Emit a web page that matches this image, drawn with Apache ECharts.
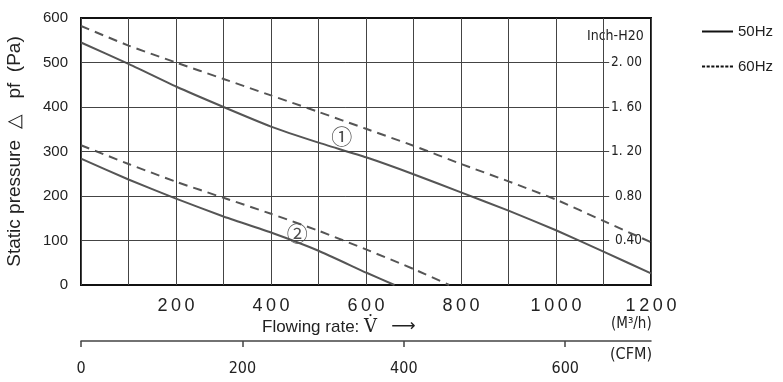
<!DOCTYPE html>
<html>
<head>
<meta charset="utf-8">
<script src="https://cdn.jsdelivr.net/npm/echarts@6/dist/echarts.min.js"></script>
<style>html,body{margin:0;padding:0;background:#fff}#c{width:783px;height:382px}</style>
</head>
<body>
<div id="c"></div>
<script>
// ---- data ----
const flowTicksM3h = [200, 400, 600, 800, 1000, 1200];
const pressureTicks = [100, 200, 300, 400, 500];
const inchLabels = ['0.40', '0.80', '1. 20', '1. 60', '2. 00'];
const cfmTicks = [0, 200, 400, 600];
const m3hPerCfm = 1.699;

const curve1_50Hz = [[0,545],[100,497],[200,446],[300,400],[400,356],[500,320],[600,287],[700,249],[800,208],[900,167],[1000,123],[1100,75],[1200,26]];
const curve1_60Hz = [[0,582],[100,538],[200,500],[300,463],[400,426],[500,389],[600,351],[700,313],[800,272],[900,233],[1000,192],[1100,144],[1200,96]];
const curve2_50Hz = [[0,284],[100,237],[200,194],[300,154],[400,118],[500,77],[600,28],[660,0]];
const curve2_60Hz = [[0,314],[100,272],[200,232],[300,196],[400,160],[500,122],[600,80],[700,36],[775,0]];
const curveMarks = [{name:'①', value:[549,334]}, {name:'②', value:[455,116]}];

// ---- styles ----
const curveColor = '#555';
const gridColor = '#444';
const narrow = "'Liberation Sans Narrow','DejaVu Sans Condensed',sans-serif";
const sans = "'Liberation Sans',Arial,sans-serif";
const hGridEnd = 1112;

const chart = echarts.init(document.getElementById('c'), null, {renderer:'canvas'});

function curve(name, data, dashed) {
  return {
    type:'line', name, data, smooth:0.15, symbol:'none', silent:true,
    lineStyle:{color:curveColor, width:2, type: dashed ? [9,6] : 'solid'},
    itemStyle:{color:curveColor}
  };
}

const s1 = curve('50Hz', curve1_50Hz, false);
s1.markLine = {
  silent:true, symbol:['none','none'], label:{show:false},
  lineStyle:{color:gridColor, width:1, type:'solid'},
  emphasis:{disabled:true},
  data: pressureTicks.map(v => [{coord:[0,v]},{coord:[hGridEnd,v]}])
};

chart.setOption({
  animation:false,
  grid:{left:81, top:18, width:570, height:267, show:true, borderColor:'#111', borderWidth:2, containLabel:false, outerBoundsMode:'none'},
  legend:{
    orient:'vertical', left:702, top:24, padding:0, itemWidth:31, itemHeight:14, itemGap:20,
    textStyle:{fontSize:15, color:'#222', fontFamily:sans},
    data:[
      {name:'50Hz', icon:'path://M0,6 L31,6 L31,8 L0,8 Z', itemStyle:{color:'#111'}},
      {name:'60Hz', icon:'path://M0,6 L3,6 L3,8 L0,8 Z M4.5,6 L7.5,6 L7.5,8 L4.5,8 Z M9,6 L12,6 L12,8 L9,8 Z M13.5,6 L16.5,6 L16.5,8 L13.5,8 Z M18,6 L21,6 L21,8 L18,8 Z M22.5,6 L25.5,6 L25.5,8 L22.5,8 Z M27,6 L30,6 L30,8 L27,8 Z', itemStyle:{color:'#111'}}
    ]
  },
  xAxis:[
    {
      type:'value', min:0, max:1200, interval:100,
      axisLine:{show:false}, axisTick:{show:false},
      splitLine:{show:true, lineStyle:{color:gridColor, width:1}},
      axisLabel:{
        margin:12, fontSize:18, color:'#222', fontFamily:sans,
        formatter: v => flowTicksM3h.includes(v) ? String(v).split('').join('\u2009') : ''
      }
    },
    {
      type:'value', position:'bottom', offset:56, min:0, max:1200/m3hPerCfm,
      axisLine:{show:true, onZero:false, lineStyle:{color:gridColor, width:1.5}},
      axisTick:{show:true, length:6, customValues:cfmTicks, lineStyle:{color:gridColor, width:1.5}},
      splitLine:{show:false},
      axisLabel:{customValues:cfmTicks, margin:20, fontSize:16, color:'#222', fontFamily:narrow}
    }
  ],
  yAxis:[
    {
      type:'value', min:0, max:600, interval:100,
      axisLine:{show:false}, axisTick:{show:false}, splitLine:{show:false},
      axisLabel:{margin:13, fontSize:15, color:'#222', fontFamily:sans},
      name:'Static pressure  △   pf  (Pa)', nameLocation:'middle', nameGap:57, nameRotate:90,
      nameTextStyle:{fontSize:19, color:'#222', fontFamily:sans}
    },
    {
      type:'value', position:'right', min:0, max:600, interval:100,
      axisLine:{show:false}, axisTick:{show:false}, splitLine:{show:false},
      axisLabel:{
        inside:true, margin:9, fontSize:13.5, color:'#222', fontFamily:narrow,
        formatter: v => { const i = pressureTicks.indexOf(v); return i >= 0 ? inchLabels[i] : ''; }
      }
    }
  ],
  graphic:[
    {type:'text', left:587, top:29, style:{text:'Inch-H20', font:"14px "+narrow, fill:'#222'}},
    {type:'text', left:262, top:318, style:{
      text:'{a|Flowing rate: }{v|V̇}{a|   }{r|⟶}', fill:'#222',
      rich:{a:{fontSize:17, fontFamily:sans, fill:'#222'},
            v:{fontSize:18, fontFamily:"'DejaVu Serif',serif", fill:'#222'},
            r:{fontSize:17, fontFamily:"'DejaVu Sans',sans-serif", fill:'#222'}}
    }},
    {type:'text', left:611, top:317, style:{text:'(M³/h)', font:"15px "+narrow, fill:'#222'}},
    {type:'text', left:610, top:347, style:{text:'(CFM)', font:"16px "+narrow, fill:'#222'}}
  ],
  series:[
    s1,
    curve('60Hz', curve1_60Hz, true),
    curve('50Hz', curve2_50Hz, false),
    curve('60Hz', curve2_60Hz, true),
    {
      type:'scatter', name:'marks', data:curveMarks, symbolSize:1, silent:true,
      itemStyle:{color:'rgba(0,0,0,0)'},
      label:{show:true, position:'inside', formatter:'{b}', fontSize:21, color:'#222', fontFamily:"'Noto Sans CJK SC',sans-serif"}
    }
  ]
});
</script>
</body>
</html>
